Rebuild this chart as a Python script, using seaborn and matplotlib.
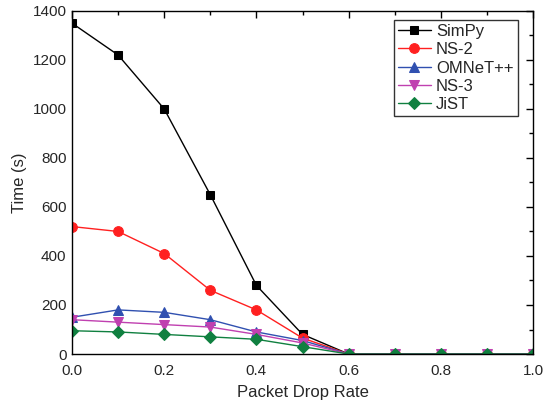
import matplotlib
matplotlib.use("Agg")
import matplotlib.pyplot as plt
from matplotlib.ticker import MultipleLocator
import seaborn as sns
import pandas as pd

drop_rate = [0.0, 0.1, 0.2, 0.3, 0.4, 0.5, 0.6, 0.7, 0.8, 0.9, 1.0]
simpy = [1350, 1220, 1000, 650, 280, 80, 0, 0, 0, 0, 0]
ns2 = [520, 500, 410, 260, 180, 65, 0, 0, 0, 0, 0]
omnet = [150, 180, 170, 140, 90, 55, 0, 0, 0, 0, 0]
ns3 = [140, 130, 120, 110, 80, 45, 0, 0, 0, 0, 0]
jist = [95, 90, 80, 70, 60, 30, 0, 0, 0, 0, 0]

series = {"SimPy": simpy, "NS-2": ns2, "OMNeT++": omnet, "NS-3": ns3, "JiST": jist}
colors = {"SimPy": "#000000", "NS-2": "#ff2020", "OMNeT++": "#3050b0", "NS-3": "#c040b0", "JiST": "#108040"}
markers = {"SimPy": "s", "NS-2": "o", "OMNeT++": "^", "NS-3": "v", "JiST": "D"}
msize = {"SimPy": 6, "NS-2": 7, "OMNeT++": 7, "NS-3": 7, "JiST": 6}

sns.set_style("white")
plt.rcParams['font.family'] = ['Liberation Sans', 'DejaVu Sans']

fig = plt.figure(figsize=(5.43, 4.07), dpi=100)
ax = fig.add_axes([0.1326, 0.1302, 0.849, 0.843])

for name, vals in series.items():
    df = pd.DataFrame({"x": drop_rate, "y": vals})
    sns.lineplot(data=df, x="x", y="y", ax=ax, color=colors[name], marker=markers[name],
                 markersize=msize[name], markeredgecolor=colors[name], linewidth=1, label=name)

ax.set_xlim(0, 1.0)
ax.set_ylim(0, 1400)
ax.xaxis.set_major_locator(MultipleLocator(0.2))
ax.xaxis.set_minor_locator(MultipleLocator(0.1))
ax.yaxis.set_major_locator(MultipleLocator(200))
ax.yaxis.set_minor_locator(MultipleLocator(100))
ax.set_xticklabels([f"{v:.1f}" for v in ax.get_xticks()])
ax.tick_params(which="both", direction="in", top=True, right=True, color="black", width=1)
ax.tick_params(which="major", length=5, labelsize=11)
ax.tick_params(which="minor", length=3)
ax.tick_params(axis="x", pad=7)
ax.tick_params(axis="y", pad=4)
for s in ax.spines.values():
    s.set_color("black")
    s.set_linewidth(1)
ax.set_xlabel("Packet Drop Rate", fontsize=12, labelpad=5)
ax.set_ylabel("Time (s)", fontsize=12)

leg = ax.legend(loc="upper right", fontsize=12, frameon=True, fancybox=False, borderpad=0.25,
                handlelength=2.0, labelspacing=0.2, handletextpad=0.3, borderaxespad=0,
                bbox_to_anchor=(0.967, 0.974))
leg.get_frame().set_edgecolor("black")
leg.get_frame().set_linewidth(1)

fig.savefig("out.png", dpi=100)
